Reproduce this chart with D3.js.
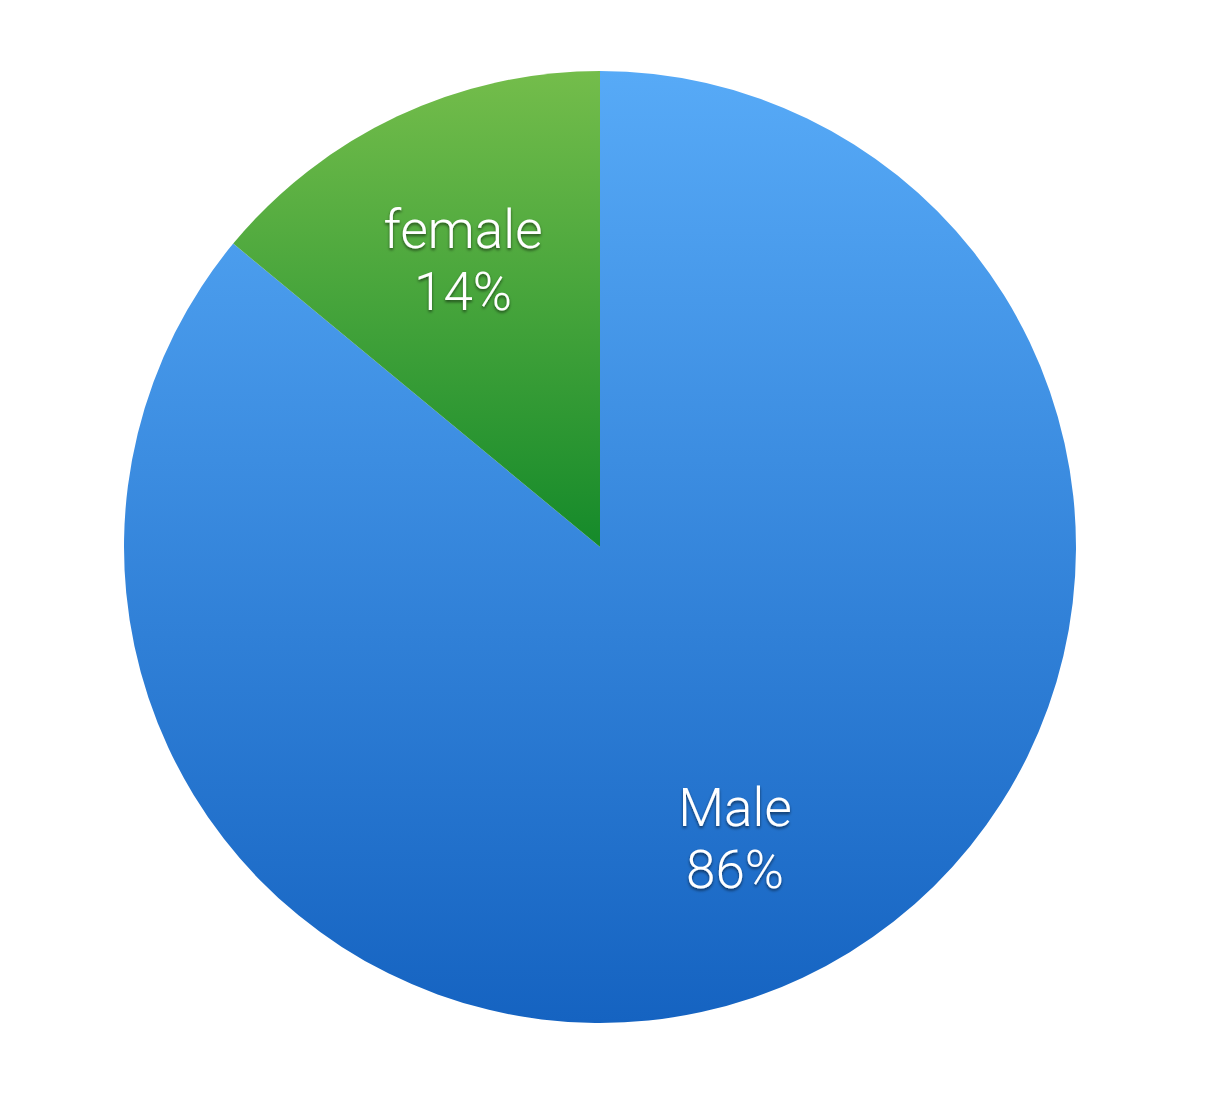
<!DOCTYPE html>
<html><head><meta charset="utf-8">
<script src="https://cdn.jsdelivr.net/npm/d3@7"></script>
<style>html,body{margin:0;padding:0;background:#fff;}</style>
</head><body>
<script>
const categories = ["Male", "female"];
const values = [86, 14];
const labels = ["86%", "14%"];
const topColors = ["#57aaf7", "#74bd4b"];
const bottomColors = ["#1563c1", "#158a2a"];

const W = 1230, H = 1096;
const cx = 600, cy = 547, R = 476;
const svg = d3.select("body").append("svg").attr("width", W).attr("height", H);
const defs = svg.append("defs");
categories.forEach((c, i) => {
  const g = defs.append("linearGradient").attr("id", "grad" + i)
    .attr("x1", 0).attr("y1", 0).attr("x2", 0).attr("y2", 1);
  g.append("stop").attr("offset", "0%").attr("stop-color", topColors[i]);
  g.append("stop").attr("offset", "100%").attr("stop-color", bottomColors[i]);
});
const f = defs.append("filter").attr("id", "shadow").attr("x", "-20%").attr("y", "-20%").attr("width", "140%").attr("height", "140%");
f.append("feDropShadow").attr("dx", 0).attr("dy", 2).attr("stdDeviation", 1.5).attr("flood-color", "#000").attr("flood-opacity", 0.55);

const pie = d3.pie().sort(null).value(d => d);
const arcs = pie(values);
const arc = d3.arc().innerRadius(0).outerRadius(R);
const g = svg.append("g").attr("transform", `translate(${cx},${cy})`);
g.selectAll("path").data(arcs).join("path")
  .attr("d", arc).attr("fill", (d, i) => `url(#grad${i})`);

const lg = g.selectAll("g.lab").data(arcs).join("g").attr("class", "lab")
  .attr("filter", "url(#shadow)");
lg.each(function(d, i) {
  const sel = d3.select(this);
  let x, y;
  if (i === 0) { x = 135; y = 279; }
  else { x = -137; y = -299; }
  sel.append("text").attr("x", x).attr("y", y)
    .attr("text-anchor", "middle")
    .attr("font-family", "Roboto, 'Helvetica Neue', sans-serif")
    .attr("font-weight", 300).attr("font-size", 53).attr("fill", "#fff")
    .text(categories[i]);
  sel.append("text").attr("x", x).attr("y", y + 62)
    .attr("text-anchor", "middle")
    .attr("font-family", "Roboto, 'Helvetica Neue', sans-serif")
    .attr("font-weight", 300).attr("font-size", 53).attr("fill", "#fff")
    .text(labels[i]);
});
</script>
</body></html>
